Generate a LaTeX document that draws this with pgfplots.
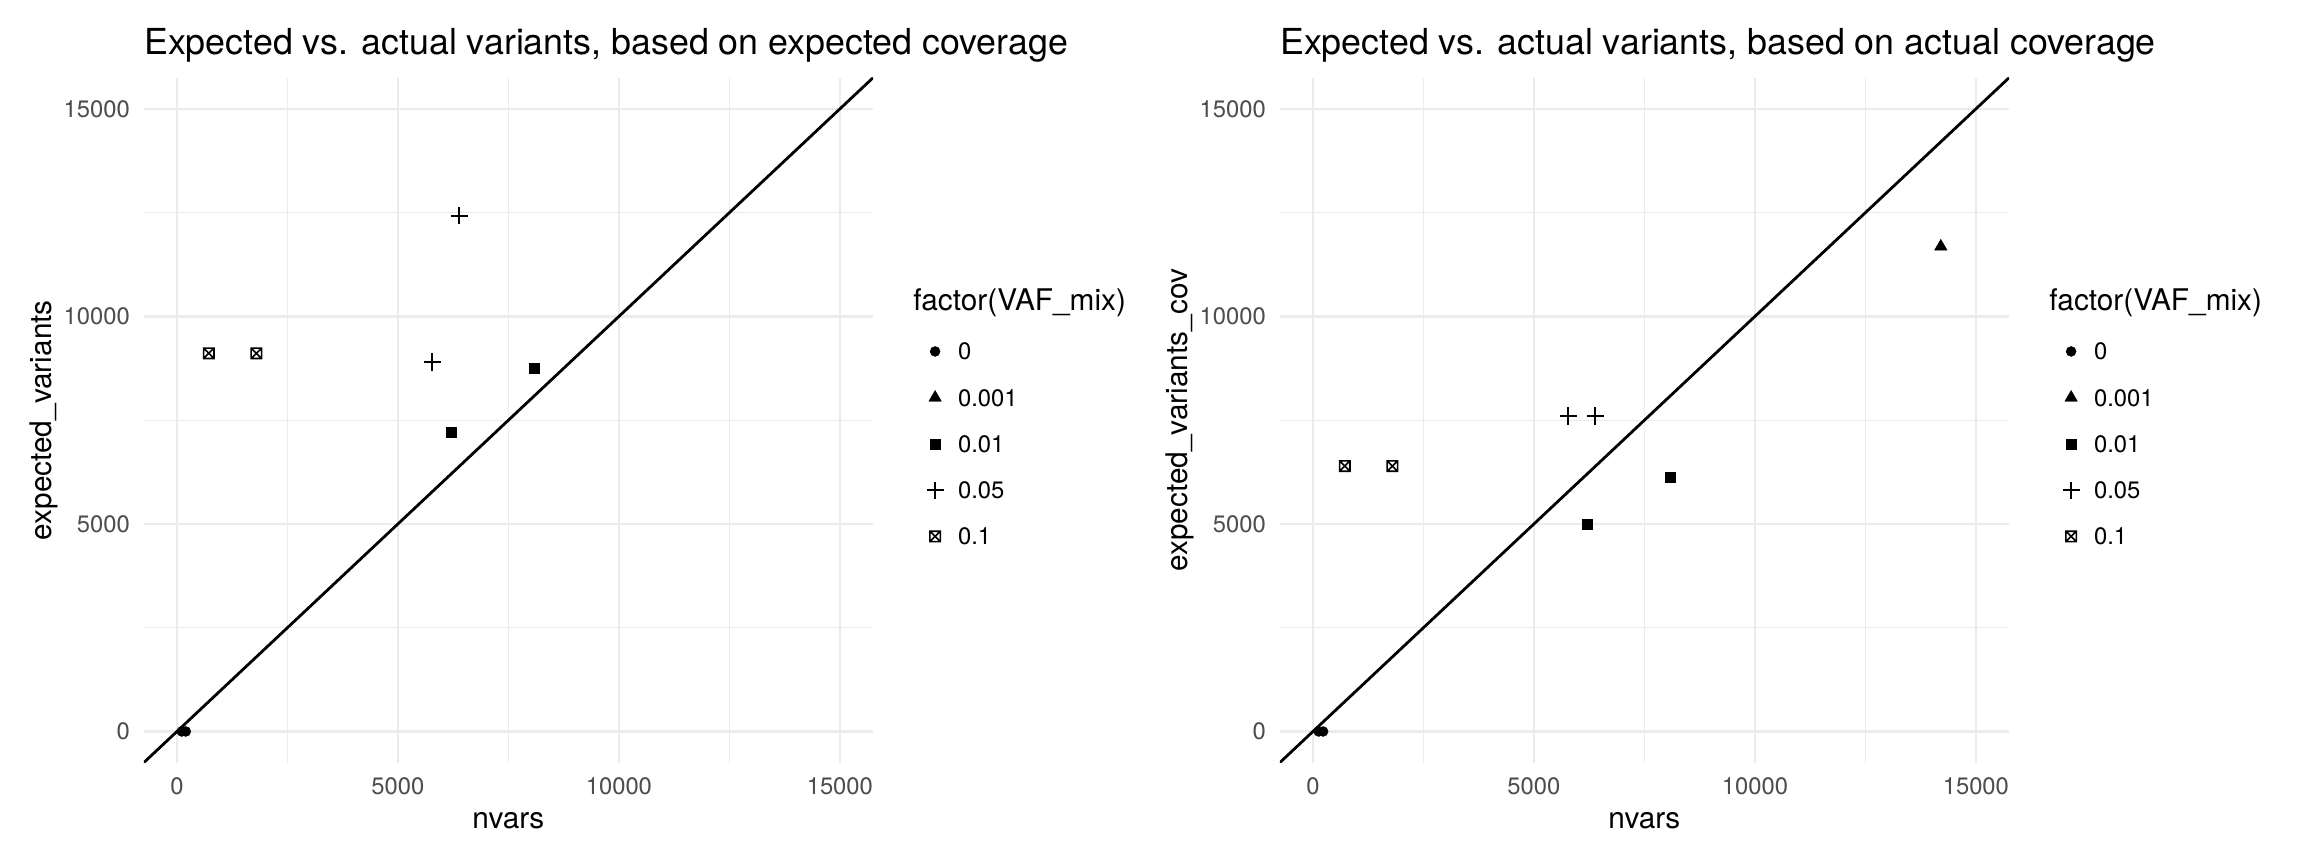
\documentclass[border=0pt]{standalone}
\usepackage{pgfplots}
\pgfplotsset{compat=1.18}
\usepackage{fontspec}
\setmainfont{TeX Gyre Heros}

\definecolor{grid92}{HTML}{EBEBEB}
\definecolor{grey30}{HTML}{4D4D4D}

% ggplot shape 7: square with a cross inside
\pgfdeclareplotmark{boxx}{%
  \pgfpathrectangle{\pgfpoint{-\pgfplotmarksize}{-\pgfplotmarksize}}{\pgfpoint{2\pgfplotmarksize}{2\pgfplotmarksize}}%
  \pgfpathmoveto{\pgfpoint{-\pgfplotmarksize}{-\pgfplotmarksize}}%
  \pgfpathlineto{\pgfpoint{\pgfplotmarksize}{\pgfplotmarksize}}%
  \pgfpathmoveto{\pgfpoint{-\pgfplotmarksize}{\pgfplotmarksize}}%
  \pgfpathlineto{\pgfpoint{\pgfplotmarksize}{-\pgfplotmarksize}}%
  \pgfusepathqstroke}

\pgfplotsset{
  mA/.style={mark=*, mark size=2.5bp, mark options={fill=black, draw=black, line width=0.2bp}},
  mB/.style={mark=triangle*, mark size=3.6bp, mark options={fill=black, draw=black, line width=0.2bp}},
  mC/.style={mark=square*, mark size=2.55bp, mark options={fill=black, draw=black, line width=0.2bp}},
  mD/.style={mark=+, mark size=4.3bp, mark options={draw=black, line width=0.8bp}},
  mE/.style={mark=boxx, mark size=2.6bp, mark options={draw=black, line width=0.8bp}},
  myleg/.style={legend image code/.code={%
      \path[draw=none, fill=none] (0bp,-4.25bp) rectangle (22bp,4.25bp);
      \draw[##1, /tikz/only marks] plot coordinates {(11bp,0bp)};}},
  ggpanel/.style={
    scale only axis, width=364.6bp, height=342.4bp, anchor=south west,
    xmin=-750, xmax=15750, ymin=-750, ymax=15750,
    xtick={0,5000,10000,15000}, ytick={0,5000,10000,15000},
    minor xtick={2500,7500,12500}, minor ytick={2500,7500,12500},
    grid=both,
    major grid style={grid92, line width=1.1bp},
    minor grid style={grid92, line width=0.55bp},
    axis line style={draw=none},
    major tick length=0pt, minor tick length=0pt,
    tick style={draw=none},
    scaled ticks=false,
    /pgf/number format/1000 sep={},
    /pgf/number format/assume math mode=true,
    ticklabel style={font=\fontsize{11.9bp}{14bp}\selectfont, text=grey30, inner sep=0pt},
    xticklabel style={anchor=center, yshift=-11.7bp},
    yticklabel style={anchor=east, xshift=-6.8bp},
    label style={font=\fontsize{14.9bp}{18bp}\selectfont, inner sep=0pt},
    xlabel style={at={(axis description cs:0.5,0)}, anchor=base, yshift=-32.9bp},
    ylabel style={at={(axis description cs:-0.1262,0.5)}, anchor=base},
    title style={at={(axis description cs:0,1)}, anchor=base west, yshift=5.8bp,
      inner sep=0pt, font=\fontsize{17.9bp}{21bp}\selectfont},
    legend style={at={(axis description cs:1.055,0.6128)}, anchor=north west,
      draw=none, fill=none, inner sep=0pt, outer sep=0pt,
      row sep=14.6bp, column sep=0.5bp,
      font=\fontsize{11.9bp}{14bp}\selectfont,
      nodes={inner sep=0pt, text height=8.5bp, text depth=0pt}},
    legend cell align=left,
  },
}

\begin{document}
\begin{tikzpicture}
\path[use as bounding box] (0,0) rectangle (1152bp,432bp);

\begin{axis}[ggpanel, name=left, at={(71.9bp,50.7bp)},
  title={Expected vs. actual variants, based on expected coverage},
  xlabel={nvars}, ylabel={expected\_variants}]
  \addplot[black, line width=1.4bp, forget plot] coordinates {(-750,-750) (15750,15750)};
  \addplot[black, only marks, mA, forget plot] coordinates {(110,0) (200,0)};
  \addplot[black, only marks, mC, forget plot] coordinates {(6211,7212) (8092,8758)};
  \addplot[black, only marks, mD, forget plot] coordinates {(5775,8902) (6387,12425)};
  \addplot[black, only marks, mE, forget plot] coordinates {(720,9112) (1797,9112)};
  \addlegendimage{black, mA, myleg}\addlegendentry{0}
  \addlegendimage{black, mB, myleg}\addlegendentry{0.001}
  \addlegendimage{black, mC, myleg}\addlegendentry{0.01}
  \addlegendimage{black, mD, myleg}\addlegendentry{0.05}
  \addlegendimage{black, mE, myleg}\addlegendentry{0.1}
\end{axis}
\node[anchor=base west, inner sep=0pt, font=\fontsize{14.9bp}{18bp}\selectfont,
  xshift=20bp, yshift=226bp] at (left.south east) {factor(VAF\_mix)};

\begin{axis}[ggpanel, name=right, at={(639.9bp,50.7bp)},
  title={Expected vs. actual variants, based on actual coverage},
  xlabel={nvars}, ylabel={expected\_variants\_cov}]
  \addplot[black, line width=1.4bp, forget plot] coordinates {(-750,-750) (15750,15750)};
  \addplot[black, only marks, mA, forget plot] coordinates {(130,0) (230,0)};
  \addplot[black, only marks, mB, forget plot] coordinates {(14207,11685)};
  \addplot[black, only marks, mC, forget plot] coordinates {(6211,4993) (8092,6130)};
  \addplot[black, only marks, mD, forget plot] coordinates {(5775,7599) (6387,7599)};
  \addplot[black, only marks, mE, forget plot] coordinates {(720,6395) (1797,6395)};
  \addlegendimage{black, mA, myleg}\addlegendentry{0}
  \addlegendimage{black, mB, myleg}\addlegendentry{0.001}
  \addlegendimage{black, mC, myleg}\addlegendentry{0.01}
  \addlegendimage{black, mD, myleg}\addlegendentry{0.05}
  \addlegendimage{black, mE, myleg}\addlegendentry{0.1}
\end{axis}
\node[anchor=base west, inner sep=0pt, font=\fontsize{14.9bp}{18bp}\selectfont,
  xshift=20bp, yshift=226bp] at (right.south east) {factor(VAF\_mix)};
\end{tikzpicture}
\end{document}
